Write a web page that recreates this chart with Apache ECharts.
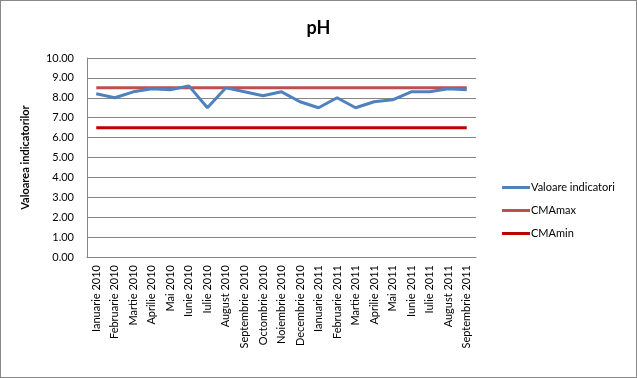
<!DOCTYPE html>
<html>
<head>
<meta charset="utf-8">
<script src="https://cdn.jsdelivr.net/npm/echarts@6/dist/echarts.min.js"></script>
<style>
html,body{margin:0;padding:0;background:#fff;}
#c{width:637px;height:378px;box-sizing:border-box;border:1px solid #888;}
</style>
</head>
<body>
<div id="c"></div>
<script>
const categories = ["Ianuarie 2010","Februarie 2010","Martie 2010","Aprilie 2010","Mai 2010","Iunie 2010","Iulie 2010","August 2010","Septembrie 2010","Octombrie 2010","Noiembrie 2010","Decembrie 2010","Ianuarie 2011","Februarie 2011","Martie 2011","Aprilie 2011","Mai 2011","Iunie 2011","Iulie 2011","August 2011","Septembrie 2011"];
const valoare = [8.2,8.0,8.3,8.45,8.4,8.6,7.5,8.5,8.3,8.1,8.3,7.8,7.5,8.0,7.5,7.8,7.9,8.3,8.3,8.45,8.4];
const cmaMax = [8.5,8.5,8.5,8.5,8.5,8.5,8.5,8.5,8.5,8.5,8.5,8.5,8.5,8.5,8.5,8.5,8.5,8.5,8.5,8.5,8.5];
const cmaMin = [6.5,6.5,6.5,6.5,6.5,6.5,6.5,6.5,6.5,6.5,6.5,6.5,6.5,6.5,6.5,6.5,6.5,6.5,6.5,6.5,6.5];
const seriesNames = ["Valoare indicatori","CMAmax","CMAmin"];

const font = "Lato, 'Liberation Sans', sans-serif";
const chart = echarts.init(document.getElementById('c'), null, {renderer:'canvas'});
chart.setOption({
  animation:false,
  textStyle:{fontFamily:font},
  title:{text:'pH',left:'center',top:13,textStyle:{fontSize:18,fontWeight:'bold',color:'#000',fontFamily:font}},
  grid:{left:86,right:160,top:57,bottom:120,containLabel:false},
  legend:{orient:'vertical',left:496,top:176,itemGap:12,itemWidth:28,itemHeight:3,
    icon:'rect',
    textStyle:{fontSize:11,color:'#000',fontFamily:font,padding:[0,0,0,-4]},
    data:seriesNames},
  xAxis:{type:'category',data:categories,boundaryGap:true,
    axisLine:{lineStyle:{color:'#868686'}},axisTick:{show:false},
    axisLabel:{rotate:90,fontSize:11,color:'#000',interval:0,margin:8,fontFamily:font}},
  yAxis:{type:'value',min:0,max:10,interval:1,
    name:'Valoarea indicatorilor',nameLocation:'middle',nameGap:56,nameRotate:90,
    nameTextStyle:{fontSize:11,fontWeight:'bold',color:'#000',fontFamily:font},
    axisLine:{show:true,lineStyle:{color:'#868686'}},axisTick:{show:false},
    splitLine:{lineStyle:{color:'#868686'}},
    axisLabel:{fontSize:11,color:'#000',margin:13,fontFamily:font,formatter:v=>v.toFixed(2)}},
  series:[
    {name:seriesNames[0],type:'line',data:valoare,symbol:'none',lineStyle:{color:'#4F81BD',width:3},itemStyle:{color:'#4F81BD'},z:3},
    {name:seriesNames[1],type:'line',data:cmaMax,symbol:'none',lineStyle:{color:'#C0504D',width:3},itemStyle:{color:'#C0504D'},z:2},
    {name:seriesNames[2],type:'line',data:cmaMin,symbol:'none',lineStyle:{color:'#C00000',width:3},itemStyle:{color:'#C00000'},z:2}
  ]
});
</script>
</body>
</html>
